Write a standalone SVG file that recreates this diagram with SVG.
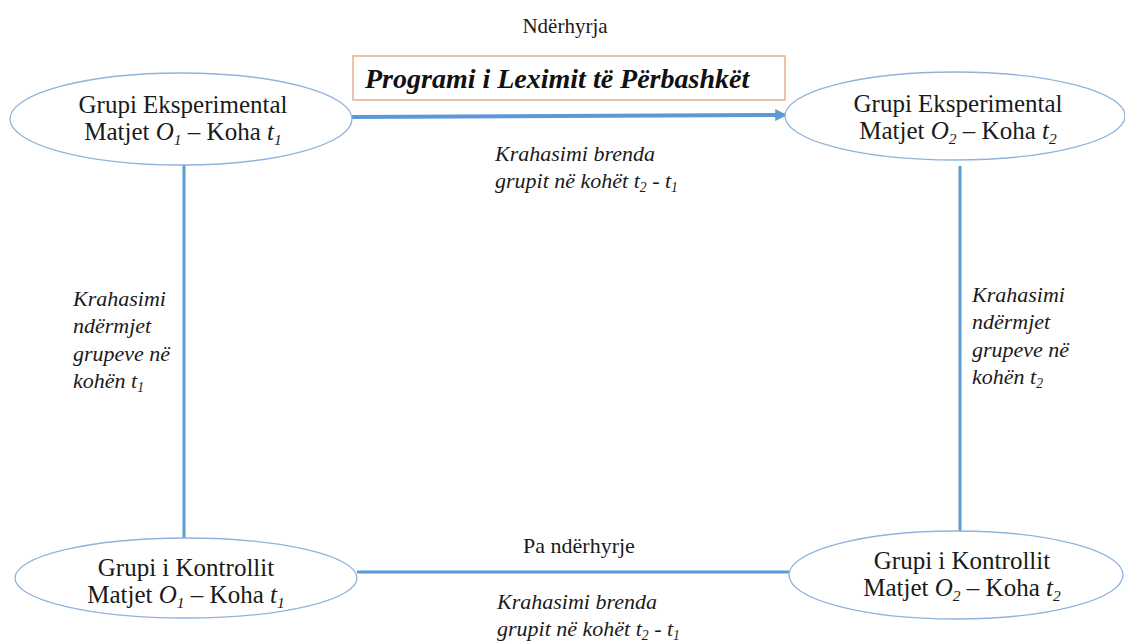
<svg xmlns="http://www.w3.org/2000/svg" width="1125" height="641" viewBox="0 0 1125 641">
<style>
text{font-family:"Liberation Serif","Times New Roman",Times,"DejaVu Serif",serif;fill:#1a1a1a}
.node ellipse{fill:#fff;stroke:#8fb3dc;stroke-width:1.3}
.nt{font-size:25px;text-anchor:middle}
.lab{font-size:22px;font-style:italic}
.plain{font-size:21px;text-anchor:middle}
.conn line{stroke:#5b9bd5;stroke-width:3}
.i{font-style:italic}
.sub{font-size:62%}
</style>
<defs>
<marker id="ah" viewBox="0 0 10 10" refX="9" refY="5" markerWidth="3" markerHeight="3" orient="auto" markerUnits="strokeWidth">
<path d="M0,0 L10,5 L0,10 z" fill="#5b9bd5"/>
</marker>
</defs>
<rect width="1125" height="641" fill="#fff"/>
<g class="conn">
<line x1="352" y1="117" x2="786" y2="115" style="stroke-width:4" marker-end="url(#ah)"/>
<line x1="184" y1="165" x2="184" y2="539"/>
<line x1="960" y1="166" x2="960" y2="532"/>
<line x1="357" y1="572" x2="791" y2="572"/>
</g>
<g id="intervention">
<rect x="353" y="56" width="432" height="44" fill="#fff" stroke="#e0a47c" stroke-width="1.3"/>
<text x="365" y="88" style="font-size:28px;font-weight:bold;font-style:italic;fill:#111">Programi i Leximit të Përbashkët</text>
</g>
<g id="exp1" class="node">
<ellipse cx="181" cy="119" rx="171" ry="46"/>
<text class="nt" x="183" y="113">Grupi Eksperimental</text>
<text class="nt" x="183" y="140">Matjet <tspan class="i">O</tspan><tspan class="i sub" dy="5">1</tspan><tspan dy="-5"> – Koha </tspan><tspan class="i">t</tspan><tspan class="i sub" dy="5">1</tspan></text>
</g>
<g id="exp2" class="node">
<ellipse cx="955" cy="116" rx="170" ry="44"/>
<text class="nt" x="958" y="112">Grupi Eksperimental</text>
<text class="nt" x="958" y="139">Matjet <tspan class="i">O</tspan><tspan class="i sub" dy="5">2</tspan><tspan dy="-5"> – Koha </tspan><tspan class="i">t</tspan><tspan class="i sub" dy="5">2</tspan></text>
</g>
<g id="ctrl1" class="node">
<ellipse cx="186" cy="578" rx="171" ry="40"/>
<text class="nt" x="186" y="576">Grupi i Kontrollit</text>
<text class="nt" x="186" y="603">Matjet <tspan class="i">O</tspan><tspan class="i sub" dy="5">1</tspan><tspan dy="-5"> – Koha </tspan><tspan class="i">t</tspan><tspan class="i sub" dy="5">1</tspan></text>
</g>
<g id="ctrl2" class="node">
<ellipse cx="956" cy="575" rx="167" ry="44"/>
<text class="nt" x="962" y="569">Grupi i Kontrollit</text>
<text class="nt" x="962" y="596">Matjet <tspan class="i">O</tspan><tspan class="i sub" dy="5">2</tspan><tspan dy="-5"> – Koha </tspan><tspan class="i">t</tspan><tspan class="i sub" dy="5">2</tspan></text>
</g>
<g id="labels">
<text class="plain" x="565" y="33">Ndërhyrja</text>
<text class="lab" x="495" y="161">Krahasimi brenda</text>
<text class="lab" x="495" y="188">grupit në kohët t<tspan class="sub" dy="4">2</tspan><tspan dy="-4"> - t</tspan><tspan class="sub" dy="4">1</tspan></text>
<text class="lab" x="73" y="306">Krahasimi</text>
<text class="lab" x="73" y="333">ndërmjet</text>
<text class="lab" x="73" y="361">grupeve në</text>
<text class="lab" x="73" y="388">kohën t<tspan class="sub" dy="4">1</tspan></text>
<text class="lab" x="972" y="302">Krahasimi</text>
<text class="lab" x="972" y="329">ndërmjet</text>
<text class="lab" x="972" y="357">grupeve në</text>
<text class="lab" x="972" y="384">kohën t<tspan class="sub" dy="4">2</tspan></text>
<text class="plain" x="579" y="553" style="font-size:22px">Pa ndërhyrje</text>
<text class="lab" x="497" y="609">Krahasimi brenda</text>
<text class="lab" x="497" y="636">grupit në kohët t<tspan class="sub" dy="4">2</tspan><tspan dy="-4"> - t</tspan><tspan class="sub" dy="4">1</tspan></text>
</g>
</svg>
